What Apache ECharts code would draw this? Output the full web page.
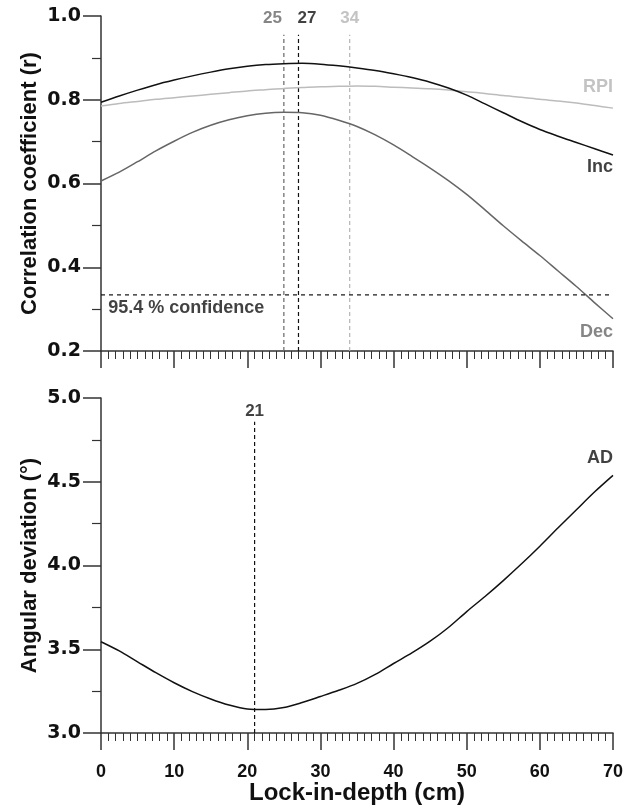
<!DOCTYPE html>
<html>
<head>
<meta charset="utf-8">
<script src="https://cdn.jsdelivr.net/npm/echarts@6/dist/echarts.min.js"></script>
<style>
  html, body { margin: 0; padding: 0; background: #fff; }
  #main { width: 638px; height: 810px; }
</style>
</head>
<body>
<div id="main"></div>
<script>
// lock-in depth (cm)
const depth = [0, 2.5, 5, 7.5, 10, 12.5, 15, 17.5, 20, 22.5, 25, 27.5, 30, 32.5, 35,
  37.5, 40, 42.5, 45, 47.5, 50, 52.5, 55, 57.5, 60, 62.5, 65, 67.5, 70]
// correlation coefficients
const inc = [0.794, 0.809, 0.823, 0.836, 0.847, 0.857, 0.866, 0.874, 0.880, 0.884, 0.886, 0.887, 0.885, 0.881, 0.876,
  0.870, 0.862, 0.853, 0.842, 0.828, 0.811, 0.790, 0.769, 0.748, 0.729, 0.713, 0.698, 0.683, 0.668]
const rpi = [0.785, 0.791, 0.796, 0.801, 0.805, 0.809, 0.813, 0.817, 0.821, 0.824, 0.827, 0.829, 0.831, 0.832, 0.833,
  0.832, 0.830, 0.828, 0.826, 0.823, 0.819, 0.815, 0.810, 0.806, 0.801, 0.797, 0.792, 0.786, 0.780]
const dec = [0.606, 0.627, 0.652, 0.678, 0.701, 0.722, 0.739, 0.752, 0.762, 0.768, 0.770, 0.769, 0.763, 0.751, 0.736,
  0.716, 0.692, 0.665, 0.637, 0.607, 0.574, 0.537, 0.499, 0.463, 0.428, 0.391, 0.354, 0.315, 0.277]
// angular deviation (deg)
const ad = [3.545, 3.490, 3.425, 3.360, 3.300, 3.247, 3.203, 3.167, 3.143, 3.140, 3.152, 3.182, 3.218, 3.255, 3.296,
  3.350, 3.415, 3.478, 3.548, 3.630, 3.725, 3.815, 3.910, 4.010, 4.115, 4.225, 4.333, 4.440, 4.538]

const confidence = 0.334
const optimaTop = [25, 27, 34]
const optimaTopColors = ['#666666', '#111111', '#b4b4b4']
const optimaTopAlign = ['right', 'left', 'center']
const optimaBottom = [21]

const font = '"Liberation Sans", Arial, sans-serif'

function pairs(xs, ys) {
  return xs.map((x, i) => [x, ys[i]])
}

function curve(name, values, color, grid) {
  return {
    name: name,
    type: 'line',
    xAxisIndex: grid,
    yAxisIndex: grid,
    data: pairs(depth, values),
    smooth: 0.3,
    symbol: 'none',
    lineStyle: {color: color, width: 1.5},
    silent: true,
    z: 3
  }
}

function vline(x, yFrom, yTo, color, grid) {
  return {
    type: 'line',
    xAxisIndex: grid,
    yAxisIndex: grid,
    data: [[x, yFrom], [x, yTo]],
    symbol: 'none',
    lineStyle: {color: color, width: 1.2, type: [4, 3]},
    silent: true,
    z: 2
  }
}

function textMark(grid, items) {
  return {
    type: 'scatter',
    xAxisIndex: grid,
    yAxisIndex: grid,
    symbolSize: 0,
    silent: true,
    data: items.map(it => ({
      value: it.at,
      label: {
        show: true, position: [0, 0], formatter: it.text,
        offset: [it.dx || 0, 0],
        align: it.align, verticalAlign: 'middle',
        color: it.color, fontFamily: font, fontWeight: 'bold', fontSize: it.size || 18
      }
    }))
  }
}

const xAxisBase = {
  type: 'value', min: 0, max: 70, interval: 10,
  axisLine: {lineStyle: {color: '#333', width: 1.5}},
  axisTick: {length: 17, lineStyle: {color: '#333', width: 1.5}},
  minorTick: {show: true, splitNumber: 10, length: 8, lineStyle: {color: '#333', width: 1}},
  splitLine: {show: false},
  minorSplitLine: {show: false}
}

const yAxisBase = {
  type: 'value',
  axisLine: {show: true, lineStyle: {color: '#333', width: 1.5}},
  axisTick: {show: true, length: 18, lineStyle: {color: '#333', width: 1.5}},
  minorTick: {show: true, splitNumber: 2, length: 9, lineStyle: {color: '#333', width: 1.2}},
  splitLine: {show: false},
  axisLabel: {
    margin: 20, color: '#111', fontFamily: '"DejaVu Sans", sans-serif', fontWeight: 'bold', fontSize: 19,
    formatter: v => v.toFixed(1)
  },
  nameLocation: 'middle',
  nameGap: 60,
  nameMoveOverlap: false,
  nameTextStyle: {color: '#111', fontFamily: font, fontWeight: 'bold', fontSize: 22}
}

const chart = echarts.init(document.getElementById('main'))

const series = [
  curve('RPI', rpi, '#bcbcbc', 0),
  curve('Inc', inc, '#111111', 0),
  curve('Dec', dec, '#666666', 0),
  {
    type: 'line', xAxisIndex: 0, yAxisIndex: 0,
    data: [[0, confidence], [70, confidence]],
    symbol: 'none', silent: true,
    lineStyle: {color: '#111', width: 1.2, type: [4, 4]}
  },
  textMark(0, [
    {text: 'RPI', at: [70, 0.830], align: 'right', color: '#b4b4b4'},
    {text: 'Inc', at: [70, 0.639], align: 'right', color: '#111111'},
    {text: 'Dec', at: [70, 0.245], align: 'right', color: '#666666'},
    {text: '95.4 % confidence', at: [1, 0.303], align: 'left', color: '#111111'}
  ].concat(optimaTop.map((d, i) => ({
    text: String(d), at: [d, 0.995], align: optimaTopAlign[i],
    dx: optimaTopAlign[i] === 'right' ? -2 : (optimaTopAlign[i] === 'left' ? -1 : 0),
    color: optimaTopColors[i], size: 17
  })))),
  curve('AD', ad, '#111111', 1),
  textMark(1, [
    {text: 'AD', at: [70, 4.642], align: 'right', color: '#111111'}
  ].concat(optimaBottom.map(d => ({
    text: String(d), at: [d, 4.922], align: 'center', color: '#111111', size: 17
  }))))
]
optimaTop.forEach((d, i) => series.push(vline(d, 0.2, 0.955, optimaTopColors[i], 0)))
optimaBottom.forEach(d => series.push(vline(d, 3.0, 4.858, '#111111', 1)))

const option = {
  animation: false,
  backgroundColor: '#fff',
  grid: [
    {left: 101, width: 512, top: 16, height: 335},
    {left: 101, width: 512, top: 398, height: 335}
  ],
  xAxis: [
    Object.assign({}, xAxisBase, {gridIndex: 0, axisLabel: {show: false}}),
    Object.assign({}, xAxisBase, {
      gridIndex: 1,
      axisLabel: {margin: 30, color: '#111', fontFamily: font, fontWeight: 'bold', fontSize: 18},
      name: 'Lock-in-depth (cm)',
      nameLocation: 'middle',
      nameGap: 48,
      nameMoveOverlap: false,
      nameTextStyle: {color: '#111', fontFamily: font, fontWeight: 'bold', fontSize: 24}
    })
  ],
  yAxis: [
    Object.assign({}, yAxisBase, {gridIndex: 0, min: 0.2, max: 1.0, interval: 0.2, name: 'Correlation coefficient (r)'}),
    Object.assign({}, yAxisBase, {gridIndex: 1, min: 3.0, max: 5.0, interval: 0.5, name: 'Angular deviation (°)'})
  ],
  series: series
}

chart.setOption(option)
</script>
</body>
</html>
